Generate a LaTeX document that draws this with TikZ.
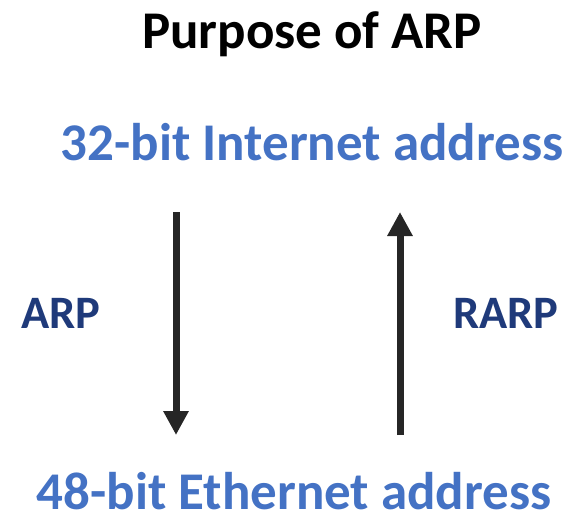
\documentclass[tikz,border=0pt]{standalone}
\usepackage{fontspec}
\setmainfont{Carlito}
\usetikzlibrary{arrows.meta}
\definecolor{addrblue}{HTML}{4472C4}
\definecolor{protoblue}{HTML}{1F3A7A}
\definecolor{arrowgray}{HTML}{262626}
\tikzset{
  title/.style={font=\bfseries\fontsize{53}{58}\selectfont, text=black, anchor=base, inner sep=0pt},
  addr/.style={font=\bfseries\fontsize{53}{58}\selectfont, text=addrblue, anchor=base, inner sep=0pt, text depth=0pt},
  proto/.style={font=\bfseries\fontsize{46.5}{52}\selectfont, text=protoblue, anchor=base, inner sep=0pt},
  conv/.style={draw=arrowgray, line width=7pt, -{Triangle[width=24pt,length=24pt]}}
}
\begin{document}
\begin{tikzpicture}[x=1pt,y=-1pt]
  \useasboundingbox (0,0) rectangle (570,514);
  \node[title] (t) at (312,48) {Purpose of ARP};
  \node[addr] (ip) at (312,160) {32-bit Internet address};
  \node[addr] (eth) at (294,509) {48-bit Ethernet address};
  \node[proto] (arp) at (61,328) {ARP};
  \node[proto] (rarp) at (506,328) {RARP};
  \coordinate (a1) at (176,212);
  \coordinate (a2) at (176,435);
  \coordinate (r1) at (400,435);
  \coordinate (r2) at (400,212);
  \draw[conv] (a1) -- (a2);
  \draw[conv] (r1) -- (r2);
\end{tikzpicture}
\end{document}
